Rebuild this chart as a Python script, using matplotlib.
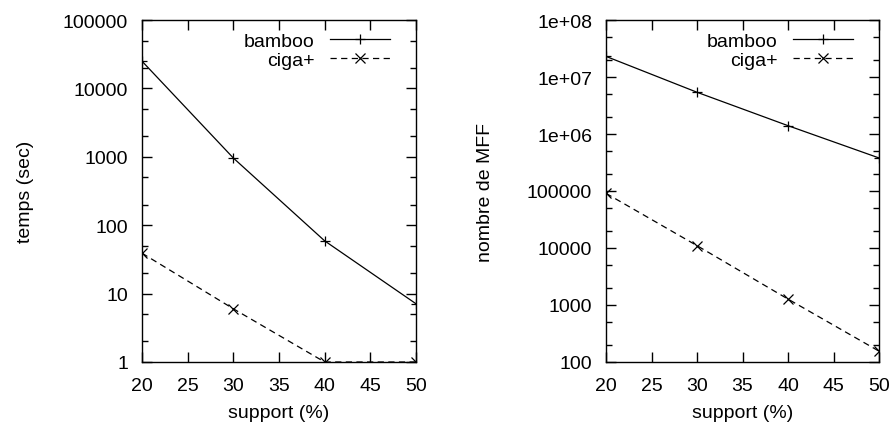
import math

import matplotlib
matplotlib.use("Agg")
import matplotlib.pyplot as plt
from matplotlib.ticker import LogLocator, NullFormatter, FuncFormatter

plt.rcParams['font.family'] = ['Liberation Sans', 'DejaVu Sans']
plt.rcParams['font.size'] = 14

support = [20, 30, 40, 50]

# left panel: run time (sec)
temps_bamboo = [25000, 960, 59, 7.1]
temps_ciga = [39, 6, 1, 1]

# right panel: number of MFF
mff_bamboo = [2.3e7, 5.4e6, 1.4e6, 3.8e5]
mff_ciga = [9.1e4, 1.1e4, 1270, 155]

x_ticks = [20, 25, 30, 35, 40, 45, 50]


def plot_series(ax, bamboo, ciga):
    ax.plot(support, bamboo, color='black', lw=0.9, marker='+', ms=7, mew=0.9, label='bamboo')
    ax.plot(support, ciga, color='black', lw=0.9, ls=(0, (5, 3.5)), marker='x', ms=6.5, mew=0.9,
            label='ciga+')


def style_axis(ax, ymin, ymax, fmt):
    ax.set_xlim(20, 50)
    ax.set_yscale('log')
    ax.set_ylim(ymin, ymax)
    ax.set_xticks(x_ticks)
    ax.yaxis.set_major_locator(LogLocator(base=10, numticks=20))
    ax.yaxis.set_minor_locator(LogLocator(base=10, subs=(2, 5), numticks=20))
    ax.yaxis.set_minor_formatter(NullFormatter())
    ax.yaxis.set_major_formatter(FuncFormatter(fmt))
    ax.tick_params(which='both', direction='in', top=True, right=True, width=1.0)
    ax.tick_params(which='major', length=7)
    ax.tick_params(which='minor', length=4)
    ax.tick_params(axis='x', pad=11)
    ax.tick_params(axis='y', pad=10)
    for s in ax.spines.values():
        s.set_linewidth(1.0)
    ax.set_xlabel('support (%)', labelpad=7)
    ax.legend(loc='upper right', bbox_to_anchor=(0.906, 0.965), frameon=False,
              markerfirst=False, handlelength=3.1, handletextpad=0.8, borderpad=0,
              borderaxespad=0, labelspacing=0.1)


def plain_fmt(v, p):
    return '%d' % round(v)


def mff_fmt(v, p):
    if v >= 1e6:
        return '1e+%02d' % round(math.log10(v))
    return '%d' % round(v)


fig = plt.figure(figsize=(8.94, 4.27), dpi=100)
ax1 = fig.add_axes([142 / 894, 64 / 427, 274 / 894, 342 / 427])
ax2 = fig.add_axes([606 / 894, 64 / 427, 273 / 894, 342 / 427])

plot_series(ax1, temps_bamboo, temps_ciga)
style_axis(ax1, 1, 100000, plain_fmt)
ax1.set_ylabel('temps (sec)', labelpad=21)

plot_series(ax2, mff_bamboo, mff_ciga)
style_axis(ax2, 100, 1e8, mff_fmt)
ax2.set_ylabel('nombre de MFF', labelpad=24)

fig.savefig('out.png', dpi=100)
